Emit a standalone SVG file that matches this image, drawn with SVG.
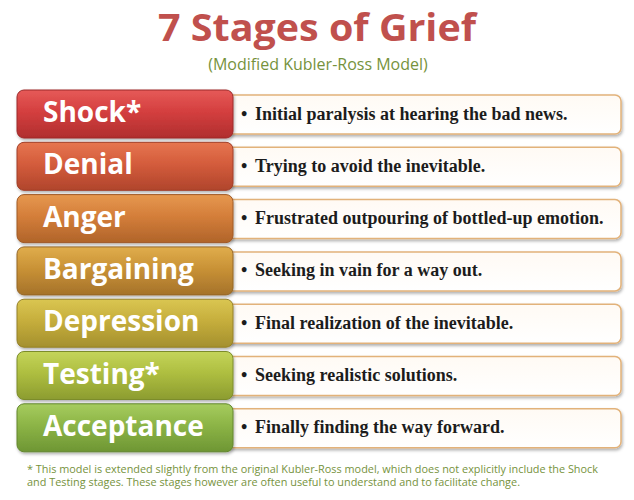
<svg xmlns="http://www.w3.org/2000/svg" width="634" height="500" viewBox="0 0 634 500">
<style>
.title{font-family:"Open Sans","Liberation Sans",sans-serif;font-weight:bold;font-size:38px;fill:#c0504d}
.sub{font-family:"Open Sans","Liberation Sans",sans-serif;font-size:16px;fill:#76923c}
.lab{font-family:"Open Sans","Liberation Sans",sans-serif;font-weight:bold;font-size:28px;fill:#ffffff}
.desc{font-family:"Liberation Serif","DejaVu Serif",serif;font-weight:bold;font-size:18px;fill:#1c1c1c}
.note{font-family:"Open Sans","Liberation Sans",sans-serif;font-size:10px;fill:#76923c}
.rbox{fill:url(#gw);stroke:#e2b27a;stroke-width:1.5;filter:url(#sh)}
.lbox{stroke-width:1;filter:url(#sh)}
</style>
<defs>
<filter id="sh" x="-5%" y="-10%" width="110%" height="130%">
<feDropShadow dx="1" dy="2" stdDeviation="1.5" flood-color="#000" flood-opacity="0.3"/>
</filter>
<linearGradient id="gw" x1="0" y1="0" x2="0" y2="1"><stop offset="0" stop-color="#fffaf4"/><stop offset="1" stop-color="#ffffff"/></linearGradient>
<linearGradient id="g1" x1="0" y1="0" x2="0" y2="1"><stop offset="0" stop-color="#e65a58"/><stop offset="0.45" stop-color="#d43f3f"/><stop offset="1" stop-color="#b02e2e"/></linearGradient>
<linearGradient id="g2" x1="0" y1="0" x2="0" y2="1"><stop offset="0" stop-color="#e6764f"/><stop offset="0.45" stop-color="#d45c3c"/><stop offset="1" stop-color="#b0452c"/></linearGradient>
<linearGradient id="g3" x1="0" y1="0" x2="0" y2="1"><stop offset="0" stop-color="#e6984f"/><stop offset="0.45" stop-color="#d47e3a"/><stop offset="1" stop-color="#b0642a"/></linearGradient>
<linearGradient id="g4" x1="0" y1="0" x2="0" y2="1"><stop offset="0" stop-color="#e0ad4c"/><stop offset="0.45" stop-color="#c99236"/><stop offset="1" stop-color="#a5722a"/></linearGradient>
<linearGradient id="g5" x1="0" y1="0" x2="0" y2="1"><stop offset="0" stop-color="#dac652"/><stop offset="0.45" stop-color="#c6ae3c"/><stop offset="1" stop-color="#a4902e"/></linearGradient>
<linearGradient id="g6" x1="0" y1="0" x2="0" y2="1"><stop offset="0" stop-color="#c4d45a"/><stop offset="0.45" stop-color="#aebe40"/><stop offset="1" stop-color="#8c9c30"/></linearGradient>
<linearGradient id="g7" x1="0" y1="0" x2="0" y2="1"><stop offset="0" stop-color="#a6cc5e"/><stop offset="0.45" stop-color="#8cb446"/><stop offset="1" stop-color="#6e9634"/></linearGradient>
</defs>
<rect width="634" height="500" fill="#ffffff"/>
<g id="title">
<text class="title" x="158" y="41" textLength="318" lengthAdjust="spacingAndGlyphs">7 Stages of Grief</text>
<text class="sub" x="318" y="70" text-anchor="middle">(Modified Kubler-Ross Model)</text>
</g>
<g id="connectors"></g>
<g id="shock">
<rect class="rbox" x="225" y="95" width="396" height="39" rx="6"/>
<rect class="lbox" x="17" y="90" width="216" height="48" rx="7" fill="url(#g1)" stroke="#9c2a2a"/>
<text class="lab" x="43" y="122">Shock*</text>
<text class="desc" x="241" y="119.5">•<tspan x="255">Initial paralysis at hearing the bad news.</tspan></text>
</g>
<g id="denial">
<rect class="rbox" x="225" y="147.3" width="396" height="39" rx="6"/>
<rect class="lbox" x="17" y="142.3" width="216" height="48" rx="7" fill="url(#g2)" stroke="#a03e28"/>
<text class="lab" x="43" y="174.3">Denial</text>
<text class="desc" x="241" y="171.8">•<tspan x="255">Trying to avoid the inevitable.</tspan></text>
</g>
<g id="anger">
<rect class="rbox" x="225" y="199.6" width="396" height="39" rx="6"/>
<rect class="lbox" x="17" y="194.6" width="216" height="48" rx="7" fill="url(#g3)" stroke="#a05a26"/>
<text class="lab" x="43" y="226.6">Anger</text>
<text class="desc" x="241" y="224.1">•<tspan x="255">Frustrated outpouring of bottled-up emotion.</tspan></text>
</g>
<g id="bargaining">
<rect class="rbox" x="225" y="251.9" width="396" height="39" rx="6"/>
<rect class="lbox" x="17" y="246.9" width="216" height="48" rx="7" fill="url(#g4)" stroke="#946626"/>
<text class="lab" x="43" y="278.9">Bargaining</text>
<text class="desc" x="241" y="276.4">•<tspan x="255">Seeking in vain for a way out.</tspan></text>
</g>
<g id="depression">
<rect class="rbox" x="225" y="304.2" width="396" height="39" rx="6"/>
<rect class="lbox" x="17" y="299.2" width="216" height="48" rx="7" fill="url(#g5)" stroke="#948028"/>
<text class="lab" x="43" y="331.2">Depression</text>
<text class="desc" x="241" y="328.7">•<tspan x="255">Final realization of the inevitable.</tspan></text>
</g>
<g id="testing">
<rect class="rbox" x="225" y="356.5" width="396" height="39" rx="6"/>
<rect class="lbox" x="17" y="351.5" width="216" height="48" rx="7" fill="url(#g6)" stroke="#7c8c2a"/>
<text class="lab" x="43" y="383.5">Testing*</text>
<text class="desc" x="241" y="381">•<tspan x="255">Seeking realistic solutions.</tspan></text>
</g>
<g id="acceptance">
<rect class="rbox" x="225" y="408.8" width="396" height="39" rx="6"/>
<rect class="lbox" x="17" y="403.8" width="216" height="48" rx="7" fill="url(#g7)" stroke="#62862e"/>
<text class="lab" x="43" y="435.8">Acceptance</text>
<text class="desc" x="241" y="433.3">•<tspan x="255">Finally finding the way forward.</tspan></text>
</g>
<g id="footnote">
<text class="note" x="27" y="473" textLength="571" lengthAdjust="spacingAndGlyphs">* This model is extended slightly from the original Kubler-Ross model, which does not explicitly include the Shock</text>
<text class="note" x="27" y="486" textLength="493" lengthAdjust="spacingAndGlyphs">and Testing stages. These stages however are often useful to understand and to facilitate change.</text>
</g>
</svg>
